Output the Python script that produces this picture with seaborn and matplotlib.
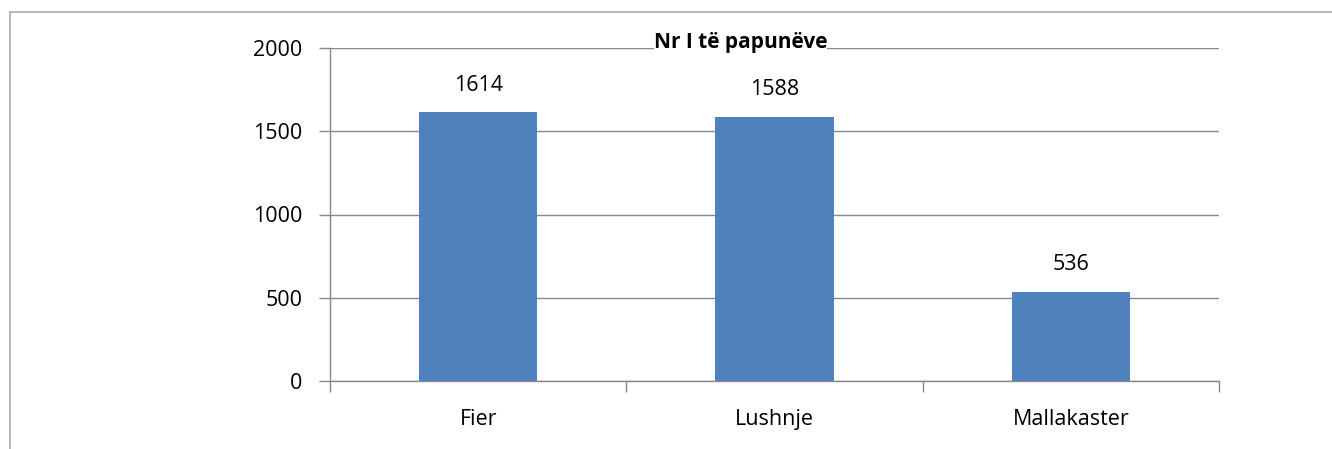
import matplotlib
matplotlib.use("Agg")
import matplotlib.pyplot as plt
import seaborn as sns
import pandas as pd
from matplotlib.patches import Rectangle
from matplotlib.ticker import FixedLocator

categories = ["Fier", "Lushnje", "Mallakaster"]
values = [1614, 1588, 536]
title = "Nr I të papunëve"
yticks = [0, 500, 1000, 1500, 2000]

sns.set_theme(style="white")
plt.rcParams['font.family'] = ['Open Sans', 'DejaVu Sans']

W, H = 1332, 449
fig = plt.figure(figsize=(W / 100, H / 100), dpi=100)
ax = fig.add_axes([330 / W, 1 - 381 / H, (1219 - 330) / W, (381 - 48) / H])

df = pd.DataFrame({"cat": categories, "val": values})
sns.barplot(data=df, x="cat", y="val", color="#4F81BD", width=0.4, ax=ax,
            saturation=1, zorder=3, linewidth=0)

ax.set_ylim(0, 2000)
ax.set_xlim(-0.5, 2.5)
ax.set_yticks(yticks)
ax.set_yticklabels([str(t) for t in yticks], fontsize=15.5, color="black")
ax.set_xlabel("")
ax.set_ylabel("")
for lbl in ax.get_xticklabels():
    lbl.set_fontsize(15.5)
    lbl.set_color("black")
ax.tick_params(axis="x", length=0, pad=20)
ax.tick_params(axis="y", length=8, width=1, color="#888888", pad=12, left=True)
ax.xaxis.set_minor_locator(FixedLocator([-0.5, 0.5, 1.5, 2.5]))
ax.tick_params(axis="x", which="minor", length=8, width=1, color="#888888", bottom=True)
ax.grid(axis="y", color="#888888", linewidth=1, zorder=0)
for s in ["top", "right"]:
    ax.spines[s].set_visible(False)
for s in ["left", "bottom"]:
    ax.spines[s].set_color("#888888")
    ax.spines[s].set_linewidth(1)

for i, v in enumerate(values):
    ax.annotate(str(v), (i, v), xytext=(0, 12), textcoords="offset points",
                ha="center", va="bottom", fontsize=15.5, color="#000000")

ax.text(0.885, 2000, title, ha="center", va="baseline",
        fontsize=15, fontweight="bold", zorder=5, color="black",
        bbox=dict(facecolor="white", edgecolor="none", pad=0))

fig.patches.append(Rectangle((10 / W, -0.1), 1.2, 1 - 12 / H + 0.1,
                             transform=fig.transFigure, fill=False,
                             edgecolor="#aaaaaa", linewidth=1.2))

fig.savefig("out.png", dpi=100)
